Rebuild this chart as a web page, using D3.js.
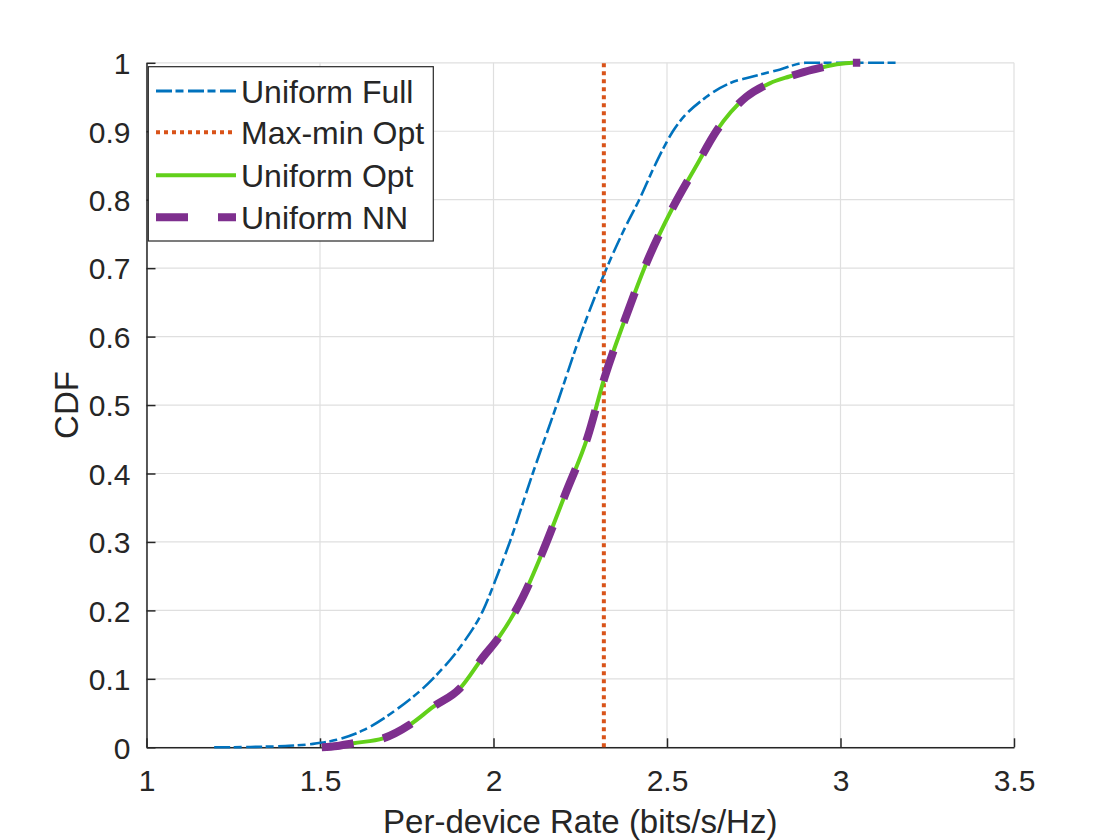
<!DOCTYPE html>
<html>
<head>
<meta charset="utf-8">
<script src="https://cdn.jsdelivr.net/npm/d3@7"></script>
<style>
  html, body { margin: 0; padding: 0; background: #fff; }
  svg { display: block; }
  text { font-family: "Liberation Sans", Arial, Helvetica, sans-serif; fill: #262626; }
</style>
</head>
<body>
<svg id="chart" width="1120" height="840"></svg>
<script>
// ---- data ----
const xTicks = [1, 1.5, 2, 2.5, 3, 3.5];
const yTicks = [0, 0.1, 0.2, 0.3, 0.4, 0.5, 0.6, 0.7, 0.8, 0.9, 1];
const xTickLabels = ["1", "1.5", "2", "2.5", "3", "3.5"];
const yTickLabels = ["0", "0.1", "0.2", "0.3", "0.4", "0.5", "0.6", "0.7", "0.8", "0.9", "1"];

const seriesNames = ["Uniform Full", "Max-min Opt", "Uniform Opt", "Uniform NN"];

const fullRate = [1.195, 1.30, 1.40, 1.48, 1.548, 1.625, 1.72, 1.825, 1.912, 1.97, 2.013, 2.047, 2.113, 2.182, 2.249, 2.326, 2.38, 2.42, 2.465, 2.517, 2.613, 2.68, 2.747, 2.824, 2.90, 3.165];
const fullCdf  = [0, 0.0005, 0.002, 0.005, 0.011, 0.025, 0.055, 0.10, 0.152, 0.20, 0.254, 0.30, 0.40, 0.50, 0.60, 0.70, 0.76, 0.80, 0.85, 0.90, 0.95, 0.97, 0.98, 0.99, 1.0, 1.0];

const maxminRate = [2.318, 2.318];
const maxminCdf  = [0, 1];

const optRate = [1.505, 1.55, 1.596, 1.682, 1.759, 1.826, 1.903, 1.97, 2.013, 2.085, 2.142, 2.207, 2.271, 2.320, 2.378, 2.442, 2.513, 2.585, 2.642, 2.728, 2.796, 2.853, 2.92, 3.035, 3.057];
const optCdf  = [0, 0.002, 0.006, 0.013, 0.033, 0.059, 0.086, 0.132, 0.159, 0.22, 0.286, 0.37, 0.453, 0.54, 0.624, 0.709, 0.785, 0.85, 0.90, 0.95, 0.97, 0.98, 0.99, 1.0, 1.0];

const nnRate = optRate.slice();
const nnCdf  = optCdf.slice();

// ---- layout ----
const svg = d3.select("#chart");
const pLeft = 146.5, pRight = 1014, pTop = 62.8, pBottom = 747.3;

const x = d3.scaleLinear().domain([1, 3.5]).range([pLeft, pRight]);
const y = d3.scaleLinear().domain([0, 1]).range([pBottom, pTop]);

// grid
const grid = svg.append("g");
grid.selectAll("line.gx").data(xTicks).enter().append("line")
  .attr("x1", d => x(d)).attr("x2", d => x(d))
  .attr("y1", pTop).attr("y2", pBottom)
  .attr("stroke", "#dfdfdf").attr("stroke-width", 1.2);
grid.selectAll("line.gy").data(yTicks).enter().append("line")
  .attr("x1", pLeft).attr("x2", pRight)
  .attr("y1", d => y(d)).attr("y2", d => y(d))
  .attr("stroke", "#dfdfdf").attr("stroke-width", 1.2);

// axes
const xAxis = d3.axisBottom(x).tickValues(xTicks)
  .tickFormat((d, i) => xTickLabels[i]).tickSizeInner(-9).tickSizeOuter(0).tickPadding(22);
const yAxis = d3.axisLeft(y).tickValues(yTicks)
  .tickFormat((d, i) => yTickLabels[i]).tickSizeInner(-9).tickSizeOuter(0).tickPadding(16);

const gx = svg.append("g").attr("transform", `translate(0,${pBottom})`).call(xAxis);
const gy = svg.append("g").attr("transform", `translate(${pLeft},0)`).call(yAxis);
[gx, gy].forEach(g => {
  g.select(".domain").attr("stroke", "#262626").attr("stroke-width", 1.5);
  g.selectAll(".tick line").attr("stroke", "#262626").attr("stroke-width", 1.5);
  g.selectAll(".tick text").style("font-size", "30px").attr("fill", "#262626")
    .style("font-family", '"Liberation Sans", Arial, sans-serif');
});
gx.selectAll(".tick text").attr("dy", "0.71em");
gy.selectAll(".tick text").attr("dy", "0.36em");

// axis labels
svg.append("text").attr("x", (pLeft + pRight) / 2).attr("y", 833)
  .attr("text-anchor", "middle").style("font-size", "33px")
  .text("Per-device Rate (bits/s/Hz)");
svg.append("text").attr("transform", `translate(78,${(pTop + pBottom) / 2}) rotate(-90)`)
  .attr("text-anchor", "middle").style("font-size", "33px")
  .text("CDF");

// lines
const line = d3.line().x(d => x(d[0])).y(d => y(d[1])).curve(d3.curveMonotoneX);
const straight = d3.line().x(d => x(d[0])).y(d => y(d[1]));
const zip = (a, b) => a.map((v, i) => [v, b[i]]);

const styles = [
  { color: "#0072BD", width: 2.6, dash: "16,3.5,8,4.5" },
  { color: "#D95319", width: 4, dash: "4,4" },
  { color: "#62D01A", width: 4, dash: null },
  { color: "#7E2F8E", width: 8, dash: "32,30" }
];
const seriesData = [
  zip(fullRate, fullCdf),
  zip(maxminRate, maxminCdf),
  zip(optRate, optCdf),
  zip(nnRate, nnCdf)
];

const plot = svg.append("g");
seriesData.forEach((data, i) => {
  const s = styles[i];
  plot.append("path").datum(data)
    .attr("d", i === 1 ? straight(data) : line(data))
    .attr("fill", "none")
    .attr("stroke", s.color)
    .attr("stroke-width", s.width)
    .attr("stroke-dasharray", s.dash)
    .attr("stroke-linejoin", "round");
});

// legend
const lg = svg.append("g");
lg.append("rect").attr("x", 148.3).attr("y", 66.7).attr("width", 285).attr("height", 174.3)
  .attr("fill", "#fff").attr("stroke", "#262626").attr("stroke-width", 1.2);
const rowY = [91, 132.3, 175.3, 217.3];
seriesNames.forEach((name, i) => {
  const s = styles[i];
  lg.append("line").attr("x1", 156).attr("x2", 236)
    .attr("y1", rowY[i]).attr("y2", rowY[i])
    .attr("stroke", s.color).attr("stroke-width", i === 0 ? 3.2 : s.width)
    .attr("stroke-dasharray", s.dash);
  lg.append("text").attr("x", 241).attr("y", rowY[i]).attr("dy", "0.36em")
    .style("font-size", "32px").attr("fill", "#000").text(name);
});
</script>
</body>
</html>
